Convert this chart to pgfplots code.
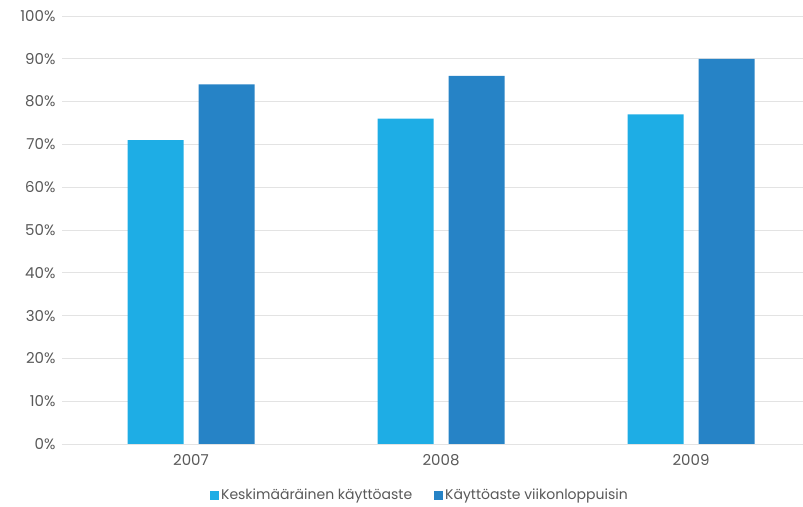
\documentclass[border=0pt]{standalone}
\usepackage{fontspec}
\setmainfont{Poppins}
\usepackage{pgfplots}
\pgfplotsset{compat=1.18}
\definecolor{lightbar}{HTML}{1EADE5}
\definecolor{darkbar}{HTML}{2683C6}
\definecolor{gridgray}{HTML}{E3E3E3}
\definecolor{textgray}{HTML}{595959}
\begin{document}
\begin{tikzpicture}[x=1pt,y=1pt]
\useasboundingbox (0,0) rectangle (803,506);
\begin{axis}[
  at={(62pt,62pt)}, anchor=south west,
  scale only axis, width=741pt, height=428pt,
  ybar=15pt, bar width=56pt,
  xmin=-0.516, xmax=2.448,
  ymin=0, ymax=100,
  xtick={0,1,2}, xticklabels={2007,2008,2009},
  ytick={0,10,...,100},
  yticklabel={\pgfmathprintnumber{\tick}\%},
  /pgf/number format/assume math mode=true,
  ymajorgrids, grid style={gridgray, line width=0.8pt},
  axis line style={draw=none},
  axis x line*=bottom,
  x axis line style={draw=gridgray, line width=0.8pt},
  major tick length=0pt,
  tick label style={font=\fontsize{15}{17}\selectfont, text=textgray},
  yticklabel style={xshift=-3pt},
  xticklabel style={yshift=-7pt},
  legend style={at={(axis description cs:0.483,0)}, anchor=center, yshift=-51pt,
    draw=none, font=\fontsize{14}{16}\selectfont, text=textgray,
    legend columns=2, /tikz/every even column/.append style={column sep=20pt}},
  legend image code/.code={\fill[#1] (0pt,-4.5pt) rectangle (9pt,4.5pt);},
]
\addplot[fill=lightbar, draw=none] coordinates {(0,71) (1,76) (2,77)};
\addplot[fill=darkbar, draw=none] coordinates {(0,84) (1,86) (2,90)};
\legend{Keskimääräinen käyttöaste, Käyttöaste viikonloppuisin}
\end{axis}
\end{tikzpicture}
\end{document}
